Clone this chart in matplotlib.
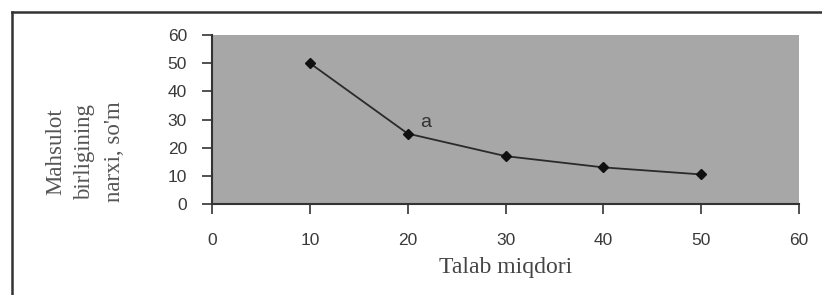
import matplotlib
matplotlib.use("Agg")
import matplotlib.pyplot as plt
from matplotlib.lines import Line2D

quantity = [10, 20, 30, 40, 50]
price = [50, 25, 17, 13, 10.5]
xticks = [0, 10, 20, 30, 40, 50, 60]
yticks = [0, 10, 20, 30, 40, 50, 60]
point_label = "a"
xlabel = "Talab miqdori"
ylabel = "Mahsulot\nbirligining\nnarxi, so'm"

fig = plt.figure(figsize=(8.22, 2.95), dpi=100)
ax = fig.add_axes([212/822, 1-204/295, (799-212)/822, (204-35)/295])
ax.set_facecolor("#a7a7a7")

ax.plot(quantity, price, color="#2a2a2a", lw=1.3, marker="D", ms=5, mfc="#111111", mec="#111111")
ax.text(21.3, 27.5, point_label, fontsize=14, color="#333333", family="Liberation Sans")

ax.set_xlim(0, 60)
ax.set_ylim(0, 60)
ax.set_xticks(xticks)
ax.set_yticks(yticks)
tick_font = dict(family="Liberation Sans", size=12.5)
ax.set_xticklabels([str(t) for t in xticks], fontdict=tick_font, color="#3a3a3a")
ax.set_yticklabels([str(t) for t in yticks], fontdict=tick_font, color="#3a3a3a")
ax.tick_params(direction="out", length=7, width=1.2, color="#333333")
ax.tick_params(axis="x", pad=14)
ax.tick_params(axis="y", pad=11)
for s in ["top", "right"]:
    ax.spines[s].set_visible(False)
for s in ["left", "bottom"]:
    ax.spines[s].set_color("#333333")
    ax.spines[s].set_linewidth(1.5)

ax.set_xlabel(xlabel, family="Liberation Serif", fontsize=17, color="#444444", labelpad=6)
fig.text(85/822, 1-152/295, ylabel, rotation=90, ha="center", va="center",
         family="Liberation Serif", fontsize=16.5, color="#555555", linespacing=1.5,
         multialignment="center")

fig.add_artist(Line2D([12/822, 1.0], [1-12/295, 1-12/295], transform=fig.transFigure, color="#333333", lw=1.8))
fig.add_artist(Line2D([12/822, 12/822], [0, 1-12/295], transform=fig.transFigure, color="#333333", lw=1.8))

fig.savefig("out.png", dpi=100)
